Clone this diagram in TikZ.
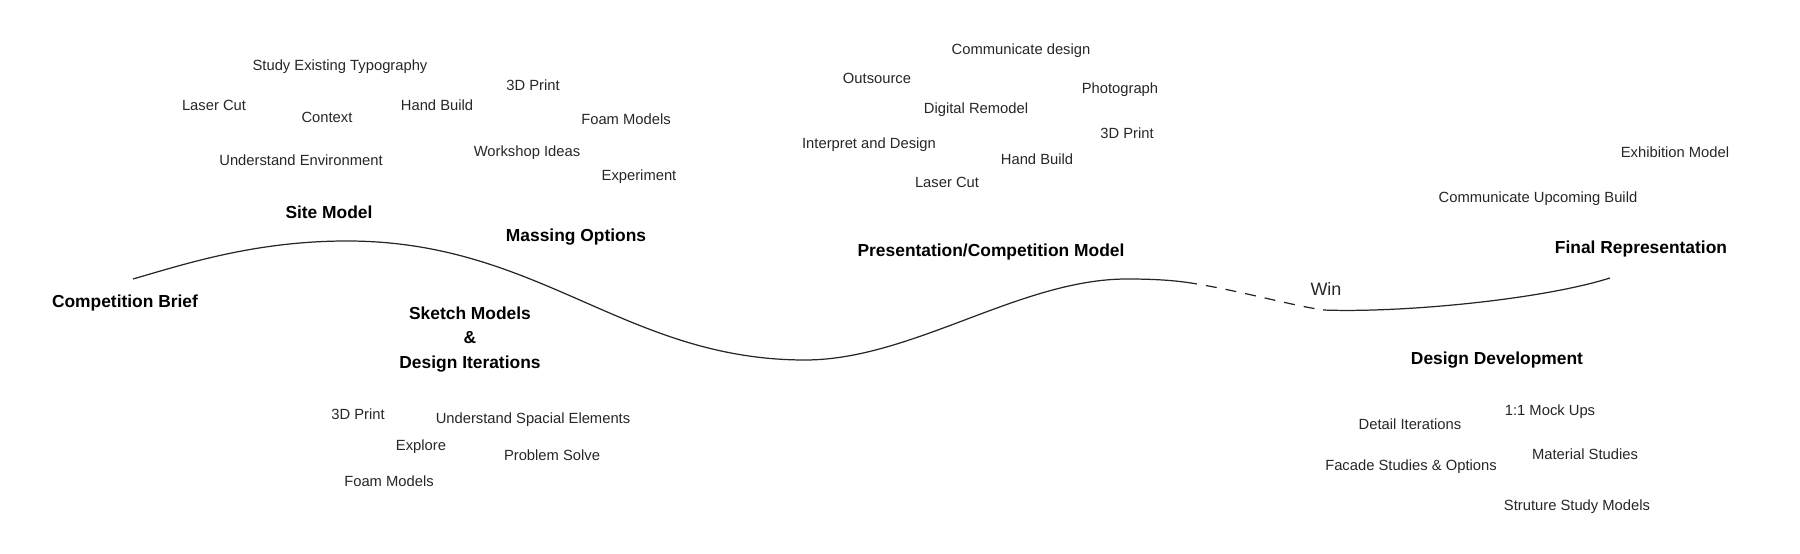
\documentclass[tikz,border=0pt]{standalone}
\usepackage{fontspec}
\setmainfont{Liberation Sans}
\usetikzlibrary{positioning}

\begin{document}
\begin{tikzpicture}[x=0.2mm, y=-0.2mm,
    stage/.style={font=\fontsize{9.9}{14.2}\selectfont\bfseries, align=center, inner sep=0pt},
    idea/.style={font=\fontsize{8.4}{10}\selectfont, text=black!85, inner sep=0pt},
    track/.style={line width=0.7pt, black!85}]
\useasboundingbox (0,0) rectangle (1800,554);

% Process curve
\coordinate (c0) at (133,279);
\coordinate (c1) at (347,241);
\coordinate (c2) at (805,360);
\coordinate (c3) at (1127,279);
\coordinate (c4) at (1197,284);
\coordinate (c5) at (1323,310);
\coordinate (c6) at (1610,278);
\draw[track] (c0) .. controls (185,264) and (255,241) .. (c1)
    .. controls (540,241) and (625,360) .. (c2)
    .. controls (912,360) and (1020,279) .. (c3)
    .. controls (1160,279) and (1180,281) .. (c4);
\draw[track, dash pattern=on 2.2mm off 1.8mm, dash phase=2.2mm] (c4) .. controls (1240,291) and (1290,305) .. (c5);
\draw[track] (c5) .. controls (1400,313) and (1540,300) .. (c6);

\begin{scope}[yshift=-0.5mm]
\node[idea, font=\fontsize{10.2}{12}\selectfont] (win) at (1326,287) {Win};

% Stages
\node[stage] (brief) at (125,301) {Competition Brief};
\node[stage] (site) at (329,210) {Site Model};
\node[stage] (massing) at (576,235) {Massing Options};
\node[stage] (sketch) at (470,337) {Sketch Models\\\&\\Design Iterations};
\node[stage] (present) at (991,250) {Presentation/Competition Model};
\node[stage] (develop) at (1497,358) {Design Development};
\node[stage] (final) at (1641,247) {Final Representation};

% Site model ideas
\foreach \x/\y/\t [count=\i] in {340/64/Study Existing Typography, 214/103/Laser Cut,
    327/115/Context, 437/103/Hand Build, 301/158/Understand Environment} {
    \node[idea] (site\i) at (\x,\y) {\t};
}
% Massing ideas
\foreach \x/\y/\t [count=\i] in {533/83/3D Print, 626/117/Foam Models,
    527/150/Workshop Ideas, 639/174/Experiment} {
    \node[idea] (mass\i) at (\x,\y) {\t};
}
% Sketch model ideas
\foreach \x/\y/\t [count=\i] in {358/412/3D Print, 533/417/Understand Spacial Elements,
    421/444/Explore, 552/453/Problem Solve, 389/479/Foam Models} {
    \node[idea] (sketch\i) at (\x,\y) {\t};
}
% Presentation ideas
\foreach \x/\y/\t [count=\i] in {1021/48/Communicate design, 877/76/Outsource,
    1120/87/Photograph, 976/107/Digital Remodel, 1127/131/3D Print,
    869/142/Interpret and Design, 1037/157/Hand Build, 947/180/Laser Cut} {
    \node[idea] (pres\i) at (\x,\y) {\t};
}
% Final ideas
\foreach \x/\y/\t [count=\i] in {1675/150/Exhibition Model, 1538/196/Communicate Upcoming Build} {
    \node[idea] (fin\i) at (\x,\y) {\t};
}
% Development ideas
\foreach \x/\y/\t [count=\i] in {1550/409/1:1 Mock Ups, 1410/422/Detail Iterations,
    1585/452/Material Studies, 1411/464/Facade Studies \& Options,
    1577/504/Struture Study Models} {
    \node[idea] (dev\i) at (\x,\y) {\t};
}
\end{scope}

\end{tikzpicture}
\end{document}
